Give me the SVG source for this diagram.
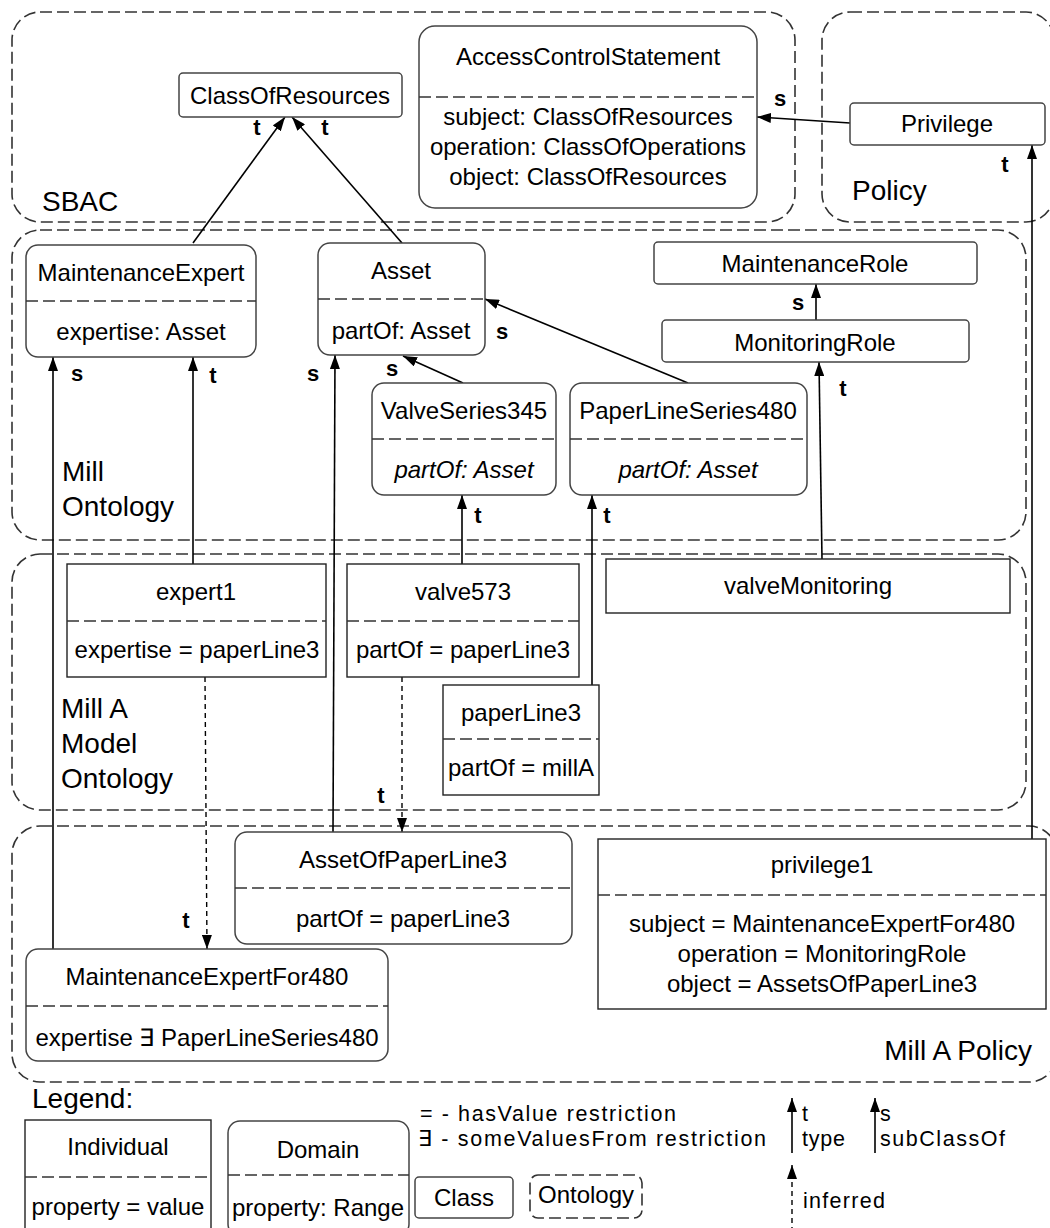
<svg xmlns="http://www.w3.org/2000/svg" width="1050" height="1228" viewBox="0 0 1050 1228">
<defs>
<marker id="ah" viewBox="0 0 14 10" refX="14" refY="5" markerWidth="14" markerHeight="10" markerUnits="userSpaceOnUse" orient="auto"><path d="M0,0 L14,5 L0,10 z" fill="#000"/></marker>
<style>
text{font-family:"Liberation Sans",Arial,sans-serif;fill:#000}
.n{font-size:24px;text-anchor:middle}
.it{font-style:italic}
.reg{font-size:28px}
.lbl{font-size:22px;font-weight:bold;text-anchor:middle}
.lg{font-size:21.5px}
.region{fill:none;stroke:#333;stroke-width:1.6;stroke-dasharray:12 5}
.cls{fill:#fff;stroke:#444;stroke-width:1.5}
.ind{fill:#fff;stroke:#222;stroke-width:1.4}
.div{stroke:#333;stroke-width:1.5;stroke-dasharray:12 5}
.e{stroke:#000;stroke-width:1.6;fill:none;marker-end:url(#ah)}
.inf{stroke:#000;stroke-width:1.4;fill:none;stroke-dasharray:5 4;marker-end:url(#ah)}
</style>
</defs>
<rect width="1050" height="1228" fill="#fff"/>

<g id="regions">
<g id="sbac"><rect class="region" x="12" y="12" width="783" height="210" rx="28"/><text class="reg" x="42" y="211">SBAC</text></g>
<g id="policy"><rect class="region" x="822" y="12" width="232" height="210" rx="28"/><text class="reg" x="852" y="200">Policy</text></g>
<g id="millOntology"><rect class="region" x="12" y="230" width="1014" height="310" rx="28"/><text class="reg" x="62" y="481">Mill</text><text class="reg" x="62" y="516">Ontology</text></g>
<g id="millAModel"><rect class="region" x="12" y="554" width="1014" height="256" rx="28"/><text class="reg" x="61" y="718">Mill A</text><text class="reg" x="61" y="753">Model</text><text class="reg" x="61" y="788">Ontology</text></g>
<g id="millAPolicy"><rect class="region" x="12" y="826" width="1045" height="256" rx="28"/><text class="reg" x="1032" y="1060" text-anchor="end">Mill A Policy</text></g>
</g>

<g id="connectors">
<line class="e" x1="193" y1="243" x2="285" y2="117"/>
<line class="e" x1="402" y1="243" x2="292" y2="117"/>
<line class="e" x1="850" y1="123" x2="757" y2="117"/>
<line class="e" x1="1032" y1="839" x2="1032" y2="145"/>
<line class="e" x1="53" y1="949" x2="53" y2="357"/>
<line class="e" x1="193" y1="564" x2="193" y2="357"/>
<line class="e" x1="333" y1="832" x2="335" y2="355"/>
<line class="e" x1="463" y1="383" x2="403" y2="356"/>
<line class="e" x1="688" y1="383" x2="485" y2="299"/>
<line class="e" x1="816" y1="320" x2="816" y2="284"/>
<line class="e" x1="822" y1="559" x2="819" y2="362"/>
<line class="e" x1="462" y1="564" x2="462" y2="495"/>
<line class="e" x1="592" y1="685" x2="592" y2="495"/>
<line class="inf" x1="205" y1="677" x2="207" y2="949"/>
<line class="inf" x1="402" y1="677" x2="402" y2="832"/>
<text class="lbl" x="257" y="135">t</text>
<text class="lbl" x="325" y="135">t</text>
<text class="lbl" x="780" y="106">s</text>
<text class="lbl" x="1005" y="172">t</text>
<text class="lbl" x="77" y="381">s</text>
<text class="lbl" x="213" y="383">t</text>
<text class="lbl" x="313" y="381">s</text>
<text class="lbl" x="392" y="376">s</text>
<text class="lbl" x="502" y="339">s</text>
<text class="lbl" x="798" y="310">s</text>
<text class="lbl" x="843" y="396">t</text>
<text class="lbl" x="478" y="523">t</text>
<text class="lbl" x="607" y="523">t</text>
<text class="lbl" x="381" y="803">t</text>
<text class="lbl" x="186" y="928">t</text>
</g>

<g id="ClassOfResources"><rect class="cls" x="179" y="73" width="223" height="44" rx="4"/><text class="n" x="290" y="104">ClassOfResources</text></g>
<g id="AccessControlStatement"><rect class="cls" x="419" y="26" width="338" height="182" rx="16"/><line class="div" x1="419" y1="97" x2="757" y2="97"/><text class="n" x="588" y="65">AccessControlStatement</text><text class="n" x="588" y="125">subject: ClassOfResources</text><text class="n" x="588" y="155">operation: ClassOfOperations</text><text class="n" x="588" y="185">object: ClassOfResources</text></g>
<g id="Privilege"><rect class="cls" x="850" y="103" width="195" height="42" rx="4"/><text class="n" x="947" y="132">Privilege</text></g>
<g id="MaintenanceExpert"><rect class="cls" x="26" y="245" width="230" height="112" rx="12"/><line class="div" x1="26" y1="301" x2="256" y2="301"/><text class="n" x="141" y="281">MaintenanceExpert</text><text class="n" x="141" y="340">expertise: Asset</text></g>
<g id="Asset"><rect class="cls" x="318" y="243" width="167" height="112" rx="12"/><line class="div" x1="318" y1="299" x2="485" y2="299"/><text class="n" x="401" y="279">Asset</text><text class="n" x="401" y="339">partOf: Asset</text></g>
<g id="MaintenanceRole"><rect class="cls" x="654" y="242" width="323" height="42" rx="4"/><text class="n" x="815" y="272">MaintenanceRole</text></g>
<g id="MonitoringRole"><rect class="cls" x="662" y="320" width="307" height="42" rx="4"/><text class="n" x="815" y="351">MonitoringRole</text></g>
<g id="ValveSeries345"><rect class="cls" x="372" y="383" width="184" height="112" rx="12"/><line class="div" x1="372" y1="439" x2="556" y2="439"/><text class="n" x="464" y="419">ValveSeries345</text><text class="n it" x="464" y="478">partOf: Asset</text></g>
<g id="PaperLineSeries480"><rect class="cls" x="570" y="383" width="237" height="112" rx="12"/><line class="div" x1="570" y1="439" x2="807" y2="439"/><text class="n" x="688" y="419">PaperLineSeries480</text><text class="n it" x="688" y="478">partOf: Asset</text></g>
<g id="expert1"><rect class="ind" x="67" y="564" width="259" height="113"/><line class="div" x1="67" y1="621" x2="326" y2="621"/><text class="n" x="196" y="600">expert1</text><text class="n" x="197" y="658">expertise = paperLine3</text></g>
<g id="valve573"><rect class="ind" x="347" y="564" width="232" height="113"/><line class="div" x1="347" y1="621" x2="579" y2="621"/><text class="n" x="463" y="600">valve573</text><text class="n" x="463" y="658">partOf = paperLine3</text></g>
<g id="paperLine3"><rect class="ind" x="443" y="685" width="156" height="110"/><line class="div" x1="443" y1="739" x2="599" y2="739"/><text class="n" x="521" y="721">paperLine3</text><text class="n" x="521" y="776">partOf = millA</text></g>
<g id="valveMonitoring"><rect class="ind" x="606" y="559" width="404" height="54"/><text class="n" x="808" y="594">valveMonitoring</text></g>
<g id="AssetOfPaperLine3"><rect class="cls" x="235" y="832" width="337" height="112" rx="12"/><line class="div" x1="235" y1="888" x2="572" y2="888"/><text class="n" x="403" y="868">AssetOfPaperLine3</text><text class="n" x="403" y="927">partOf = paperLine3</text></g>
<g id="MaintenanceExpertFor480"><rect class="cls" x="26" y="949" width="362" height="112" rx="12"/><line class="div" x1="26" y1="1006" x2="388" y2="1006"/><text class="n" x="207" y="985">MaintenanceExpertFor480</text><text class="n" x="207" y="1046">expertise ∃ PaperLineSeries480</text></g>
<g id="privilege1"><rect class="ind" x="598" y="839" width="448" height="170"/><line class="div" x1="598" y1="895" x2="1046" y2="895"/><text class="n" x="822" y="873">privilege1</text><text class="n" x="822" y="932">subject = MaintenanceExpertFor480</text><text class="n" x="822" y="962">operation = MonitoringRole</text><text class="n" x="822" y="992">object = AssetsOfPaperLine3</text></g>

<g id="legend">
<text class="reg" x="32" y="1108">Legend:</text>
<g id="legendIndividual"><rect class="ind" x="25" y="1120" width="186" height="115"/><line class="div" x1="25" y1="1177" x2="211" y2="1177"/><text class="n" x="118" y="1155">Individual</text><text class="n" x="118" y="1215">property = value</text></g>
<g id="legendDomain"><rect class="cls" x="228" y="1121" width="181" height="115" rx="12"/><line class="div" x1="228" y1="1175" x2="409" y2="1175"/><text class="n" x="318" y="1158">Domain</text><text class="n" x="318" y="1216">property: Range</text></g>
<g id="legendClass"><rect class="cls" x="415" y="1177" width="98" height="41" rx="4"/><text class="n" x="464" y="1206">Class</text></g>
<g id="legendOntology"><rect class="region" x="530" y="1175" width="112" height="43" rx="8" stroke-dasharray="9 4"/><text class="n" x="586" y="1203">Ontology</text></g>
<text class="lg" x="420" y="1121" textLength="256" lengthAdjust="spacing">= - hasValue restriction</text>
<text class="lg" x="418" y="1146" textLength="348" lengthAdjust="spacing">∃ - someValuesFrom restriction</text>
<line class="e" x1="792" y1="1153" x2="792" y2="1098"/>
<line class="e" x1="875" y1="1153" x2="875" y2="1098"/>
<line class="inf" x1="792" y1="1232" x2="792" y2="1165"/>
<text class="lg" x="802" y="1121">t</text>
<text class="lg" x="802" y="1146" textLength="43" lengthAdjust="spacing">type</text>
<text class="lg" x="880" y="1121">s</text>
<text class="lg" x="880" y="1146" textLength="125" lengthAdjust="spacing">subClassOf</text>
<text class="lg" x="803" y="1208" textLength="82" lengthAdjust="spacing">inferred</text>
</g>
</svg>
